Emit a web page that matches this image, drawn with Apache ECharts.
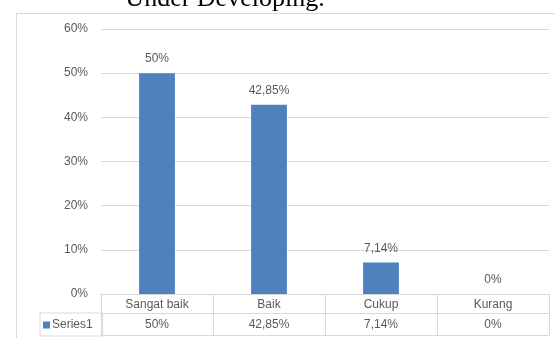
<!DOCTYPE html>
<html>
<head>
<meta charset="utf-8">
<script src="https://cdn.jsdelivr.net/npm/echarts@6/dist/echarts.min.js"></script>
<style>
html,body{margin:0;padding:0;background:#fff;}
#c{width:555px;height:338px;}
</style>
</head>
<body>
<div id="c"></div>
<script>
const categories = ['Sangat baik', 'Baik', 'Cukup', 'Kurang'];
const values = [0.50, 0.4285, 0.0714, 0];
const valueLabels = ['50%', '42,85%', '7,14%', '0%'];
const seriesName = 'Series1';
const yTicks = [0, 0.1, 0.2, 0.3, 0.4, 0.5, 0.6];

const FONT = 'Liberation Sans';
const GRAY = '#595959';
const LINE = '#d9d9d9';
const BLUE = '#4f81bd';
const FS = 12;

const chart = echarts.init(document.getElementById('c'), null, {renderer: 'canvas'});
const option = {
  animation: false,
  textStyle: {fontFamily: FONT},
  graphic: [
    {type: 'rect', shape: {x: 16.5, y: 13.5, width: 600, height: 400}, style: {fill: 'none', stroke: LINE, lineWidth: 1}, silent: true},
    {type: 'text', x: 225, y: 12, style: {text: 'Under Developing.', font: '26px "Liberation Serif"', fill: '#000', align: 'center', verticalAlign: 'bottom'}}
  ],
  legend: {
    show: true,
    left: 40, top: 313,
    data: [seriesName],
    itemWidth: 7, itemHeight: 7, itemGap: 0,
    icon: 'rect',
    padding: [6, 10, 5, 3],
    borderColor: LINE, borderWidth: 1,
    textStyle: {color: GRAY, fontSize: FS, fontFamily: FONT, padding: [0, 0, 0, -3]},
    selectedMode: false
  },
  grid: {left: 101, right: 6, top: 29, bottom: 44, containLabel: false},
  xAxis: [
    {
      type: 'category', data: categories, position: 'bottom',
      axisLine: {show: true, lineStyle: {color: LINE}},
      axisTick: {show: true, length: 41, alignWithLabel: false, lineStyle: {color: LINE}},
      axisLabel: {color: GRAY, fontSize: FS, fontFamily: FONT, margin: 5},
      splitLine: {show: false}
    },
    {
      type: 'category', data: valueLabels, position: 'bottom', offset: 19, gridIndex: 0,
      axisLine: {show: true, lineStyle: {color: LINE}},
      axisTick: {show: false},
      axisLabel: {color: GRAY, fontSize: FS, fontFamily: FONT, margin: 6}
    },
    {
      type: 'category', data: categories, position: 'bottom', offset: 41, gridIndex: 0,
      axisLine: {show: true, lineStyle: {color: LINE}},
      axisTick: {show: false},
      axisLabel: {show: false}
    }
  ],
  yAxis: {
    type: 'value', min: yTicks[0], max: yTicks[yTicks.length - 1], interval: 0.1,
    axisLine: {show: false}, axisTick: {show: false},
    axisLabel: {color: GRAY, fontSize: FS, fontFamily: FONT, margin: 13,
      formatter: v => Math.round(v * 100) + '%'},
    splitLine: {lineStyle: {color: LINE}}
  },
  series: [{
    name: seriesName, type: 'bar', data: values, xAxisIndex: 0,
    barWidth: '32%',
    itemStyle: {color: BLUE},
    label: {show: true, position: 'top', distance: 8, color: GRAY, fontSize: FS, fontFamily: FONT,
      formatter: p => valueLabels[p.dataIndex]}
  }]
};
chart.setOption(option);
</script>
</body>
</html>
